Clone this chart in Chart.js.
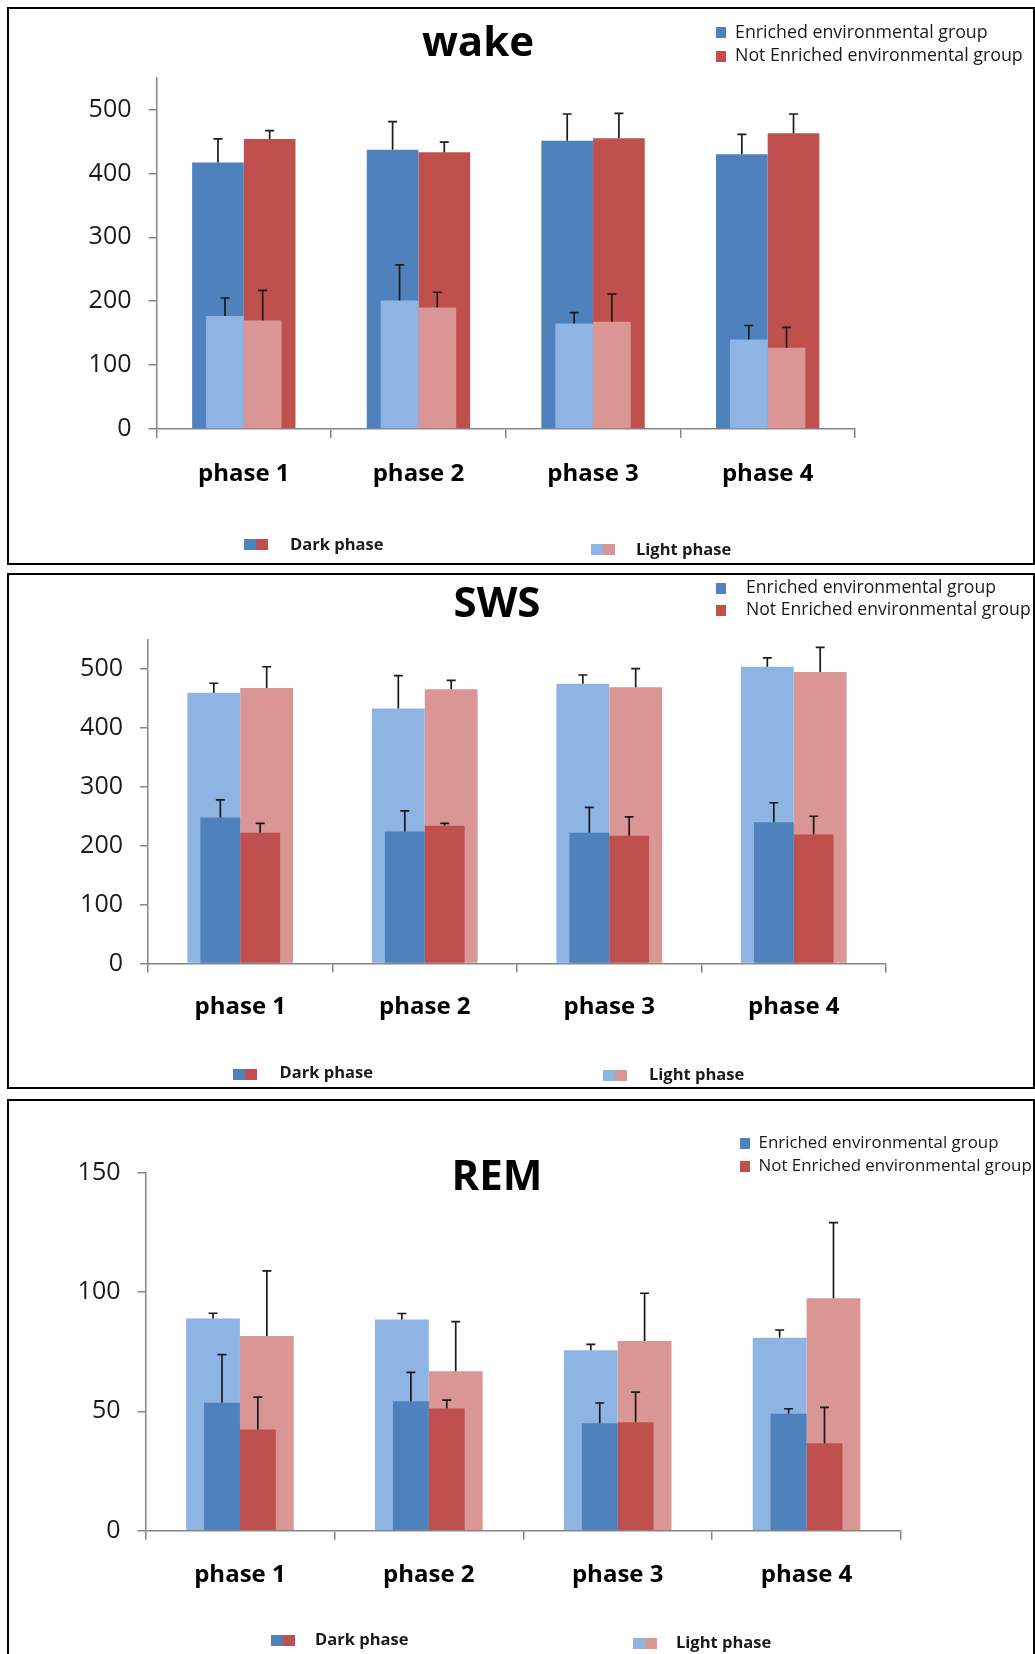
<!DOCTYPE html>
<html>
<head>
<meta charset="utf-8">
<script src="https://cdn.jsdelivr.net/npm/chart.js@4.4.1/dist/chart.umd.min.js"></script>
<style>
  html, body { margin: 0; padding: 0; background: #fff; }
  body { position: relative; width: 1035px; height: 1654px; overflow: hidden; font-family: 'Open Sans', sans-serif; }
  canvas { position: absolute; left: 0; }
  .panel { position: absolute; box-sizing: border-box; border: 2px solid #000; pointer-events: none; }
  .title { position: absolute; width: 400px; text-align: center; font-weight: bold; font-size: 42px; line-height: 42px; color: #000; white-space: nowrap; }
  .lg { position: absolute; font-size: 17.5px; line-height: 17.5px; color: #1a1a1a; white-space: nowrap; }
  .sw { position: absolute; width: 10px; height: 11px; }
  .blg { position: absolute; font-size: 16.5px; line-height: 16.5px; font-weight: bold; color: #1a1a1a; white-space: nowrap; }
  .sw2 { position: absolute; width: 24px; height: 11px; }
</style>
</head>
<body>
<canvas id="wake" width="1035" height="556" style="top:8px;width:1035px;height:556px"></canvas>
<canvas id="sws" width="1035" height="514" style="top:574px;width:1035px;height:514px"></canvas>
<canvas id="rem" width="1035" height="554" style="top:1100px;width:1035px;height:554px"></canvas>

<div class="panel" style="left:7px;top:7px;width:1028px;height:558px"></div>
<div class="panel" style="left:7px;top:573px;width:1028px;height:516px"></div>
<div class="panel" style="left:7px;top:1099px;width:1028px;height:600px"></div>

<div id="overlay"></div>

<script>
// ---------- DATA ----------
const categories = ['phase 1', 'phase 2', 'phase 3', 'phase 4'];
const groupLabels = ['Enriched environmental group', 'Not Enriched environmental group'];
const phaseLabels = ['Dark phase', 'Light phase'];

// wake
const wakeDarkEnriched        = [417, 437, 451, 430];
const wakeDarkEnrichedErr     = [37, 44, 42, 31];
const wakeDarkNotEnriched     = [454, 433, 455, 463];
const wakeDarkNotEnrichedErr  = [13, 16, 39, 30];
const wakeLightEnriched       = [177, 201, 165, 140];
const wakeLightEnrichedErr    = [28, 56, 17, 22];
const wakeLightNotEnriched    = [170, 190, 168, 127];
const wakeLightNotEnrichedErr = [47, 24, 43, 32];

// SWS
const swsDarkEnriched        = [248, 224, 222, 240];
const swsDarkEnrichedErr     = [30, 35, 43, 33];
const swsDarkNotEnriched     = [222, 234, 217, 219];
const swsDarkNotEnrichedErr  = [16, 4, 32, 31];
const swsLightEnriched       = [460, 433, 475, 504];
const swsLightEnrichedErr    = [16, 56, 15, 15];
const swsLightNotEnriched    = [468, 466, 469, 495];
const swsLightNotEnrichedErr = [36, 15, 32, 42];

// REM
const remDarkEnriched        = [53.6, 54.2, 45.0, 49.0];
const remDarkEnrichedErr     = [20.2, 12.1, 8.5, 2.1];
const remDarkNotEnriched     = [42.4, 51.2, 45.4, 36.6];
const remDarkNotEnrichedErr  = [13.6, 3.5, 12.7, 15.1];
const remLightEnriched       = [88.9, 88.5, 75.6, 80.8];
const remLightEnrichedErr    = [2.2, 2.5, 2.5, 3.3];
const remLightNotEnriched    = [81.6, 66.8, 79.5, 97.4];
const remLightNotEnrichedErr = [27.3, 20.8, 20.0, 31.7];

// y tick settings
const wakeTicks = { max: 550, step: 100, labelMax: 500 };
const swsTicks  = { max: 550, step: 100, labelMax: 500 };
const remTicks  = { max: 150, step: 50, labelMax: 150 };

// ---------- STYLE ----------
const C = { darkBlue: '#4F81BD', darkRed: '#C0504D', lightBlue: '#8EB4E3', lightRed: '#D99694' };
Chart.defaults.font.family = "'Open Sans', sans-serif";

const errorBarPlugin = {
  id: 'errorBars',
  afterDatasetDraw(chart, args) {
    const ds = chart.data.datasets[args.index];
    if (!ds.errors) return;
    const y = chart.scales.y;
    const ctx = chart.ctx;
    ctx.save();
    ctx.strokeStyle = '#1a1a1a';
    ctx.lineWidth = 1.7;
    args.meta.data.forEach((bar, i) => {
      const top = y.getPixelForValue(ds.data[i] + ds.errors[i]);
      ctx.beginPath();
      ctx.moveTo(bar.x, bar.y);
      ctx.lineTo(bar.x, top);
      ctx.moveTo(bar.x - 4.5, top);
      ctx.lineTo(bar.x + 4.5, top);
      ctx.stroke();
    });
    ctx.restore();
  }
};

function makeChart(id, d, geo) {
  const darkOrder = geo.darkOnTop ? 0 : 1;
  const lightOrder = geo.darkOnTop ? 1 : 0;
  // 'stack' keys put enriched (dark+light) in the left slot and not-enriched in the right slot;
  // values are NOT stacked (y.stacked: false) – dark and light bars overlap.
  const bar = (label, data, errors, color, slot, pct, order) => ({
    label, data, errors, backgroundColor: color, borderWidth: 0,
    stack: slot, categoryPercentage: pct, barPercentage: 1, order
  });
  const datasets = [
    bar(groupLabels[0] + ' dark', d.de, d.deErr, C.darkBlue, 'enriched', geo.darkPct, darkOrder),
    bar(groupLabels[1] + ' dark', d.dn, d.dnErr, C.darkRed, 'notEnriched', geo.darkPct, darkOrder),
    bar(groupLabels[0] + ' light', d.le, d.leErr, C.lightBlue, 'enriched', geo.lightPct, lightOrder),
    bar(groupLabels[1] + ' light', d.ln, d.lnErr, C.lightRed, 'notEnriched', geo.lightPct, lightOrder)
  ];
  const axisW = 80, xH = 60;
  return new Chart(document.getElementById(id), {
    type: 'bar',
    data: { labels: categories, datasets },
    plugins: [errorBarPlugin],
    options: {
      responsive: false, animation: false, devicePixelRatio: 1,
      layout: { padding: {
        left: geo.axisX - axisW,
        right: 1035 - geo.rightX,
        top: geo.top,
        bottom: geo.h - geo.bottom - xH
      } },
      plugins: { legend: { display: false }, tooltip: { enabled: false }, title: { display: false } },
      scales: {
        x: {
          type: 'category', offset: true,
          ticks: { font: { size: 24, weight: 'bold' }, color: '#000', padding: geo.xPad, maxRotation: 0 },
          grid: { offset: true, drawOnChartArea: false, drawTicks: true, tickLength: 9, color: '#868686', lineWidth: 1.5 },
          border: { display: true, color: '#868686', width: 1.5 },
          afterFit: s => { s.height = xH; }
        },
        y: {
          min: 0, max: d.ticks.max, stacked: false,
          ticks: { stepSize: d.ticks.step, font: { size: 25 }, color: '#1a1a1a', padding: 17 },
          grid: { drawOnChartArea: false, drawTicks: true, tickLength: 8, color: '#868686', lineWidth: 1.5 },
          border: { display: true, color: '#868686', width: 1.5 },
          afterBuildTicks: s => { s.ticks = s.ticks.filter(t => t.value <= d.ticks.labelMax); },
          afterFit: s => { s.width = axisW; }
        }
      }
    }
  });
}

makeChart('wake', {
  de: wakeDarkEnriched, deErr: wakeDarkEnrichedErr, dn: wakeDarkNotEnriched, dnErr: wakeDarkNotEnrichedErr,
  le: wakeLightEnriched, leErr: wakeLightEnrichedErr, ln: wakeLightNotEnriched, lnErr: wakeLightNotEnrichedErr,
  ticks: wakeTicks
}, { h: 556, axisX: 156.5, rightX: 855, top: 69.6, bottom: 421, darkPct: 0.592, lightPct: 0.432, darkOnTop: false, xPad: 22 });

makeChart('sws', {
  de: swsDarkEnriched, deErr: swsDarkEnrichedErr, dn: swsDarkNotEnriched, dnErr: swsDarkNotEnrichedErr,
  le: swsLightEnriched, leErr: swsLightEnrichedErr, ln: swsLightNotEnriched, lnErr: swsLightNotEnrichedErr,
  ticks: swsTicks
}, { h: 514, axisX: 148, rightX: 886, top: 65.7, bottom: 389.4, darkPct: 0.432, lightPct: 0.573, darkOnTop: true, xPad: 20 });

makeChart('rem', {
  de: remDarkEnriched, deErr: remDarkEnrichedErr, dn: remDarkNotEnriched, dnErr: remDarkNotEnrichedErr,
  le: remLightEnriched, leErr: remLightEnrichedErr, ln: remLightNotEnriched, lnErr: remLightNotEnrichedErr,
  ticks: remTicks
}, { h: 554, axisX: 145.5, rightX: 901, top: 72.7, bottom: 430.7, darkPct: 0.38, lightPct: 0.57, darkOnTop: true, xPad: 21 });

// ---------- HTML titles & legends ----------
const overlay = document.getElementById('overlay');
function add(cls, style, text) {
  const el = document.createElement('div');
  el.className = cls;
  Object.assign(el.style, style);
  if (text !== undefined) el.textContent = text;
  overlay.appendChild(el);
  return el;
}
const titles = [
  { text: 'wake', cx: 478, baseline: 56 },
  { text: 'SWS', cx: 497, baseline: 617 },
  { text: 'REM', cx: 497, baseline: 1190 }
];
titles.forEach(t => add('title', { left: (t.cx - 200) + 'px', top: (t.baseline - 0.888 * 42) + 'px' }, t.text));

const topLegends = [
  { sx: 716, tx: 735, b1: 38.5, b2: 62, fs: 17.8 },
  { sx: 715.5, tx: 746, b1: 594, b2: 616, fs: 17.6 },
  { sx: 740, tx: 758.5, b1: 1149.5, b2: 1172.5, fs: 16.9 }
];
topLegends.forEach(l => {
  [l.b1, l.b2].forEach((b, i) => {
    add('sw', { left: l.sx + 'px', top: (b - 11.5) + 'px', background: i === 0 ? C.darkBlue : C.darkRed });
    add('lg', { left: l.tx + 'px', top: (b - 0.888 * l.fs) + 'px', fontSize: l.fs + 'px', lineHeight: l.fs + 'px' }, groupLabels[i]);
  });
});

const bottomLegends = [
  { dsx: 244, dsy: 539, dtx: 290, db: 550.7, lsx: 591, lsy: 544, ltx: 636, lb: 555.5 },
  { dsx: 233, dsy: 1068.5, dtx: 279.5, db: 1079, lsx: 602.5, lsy: 1069.5, ltx: 649, lb: 1080.5 },
  { dsx: 271, dsy: 1634.5, dtx: 315, db: 1645.8, lsx: 633, lsy: 1637.5, ltx: 676, lb: 1649 }
];
bottomLegends.forEach(l => {
  add('sw2', { left: l.dsx + 'px', top: l.dsy + 'px', background: `linear-gradient(to right, ${C.darkBlue} 50%, ${C.darkRed} 50%)` });
  add('blg', { left: l.dtx + 'px', top: (l.db - 0.888 * 16.5) + 'px' }, phaseLabels[0]);
  add('sw2', { left: l.lsx + 'px', top: l.lsy + 'px', background: `linear-gradient(to right, ${C.lightBlue} 50%, ${C.lightRed} 50%)` });
  add('blg', { left: l.ltx + 'px', top: (l.lb - 0.888 * 16.5) + 'px' }, phaseLabels[1]);
});
</script>
</body>
</html>
